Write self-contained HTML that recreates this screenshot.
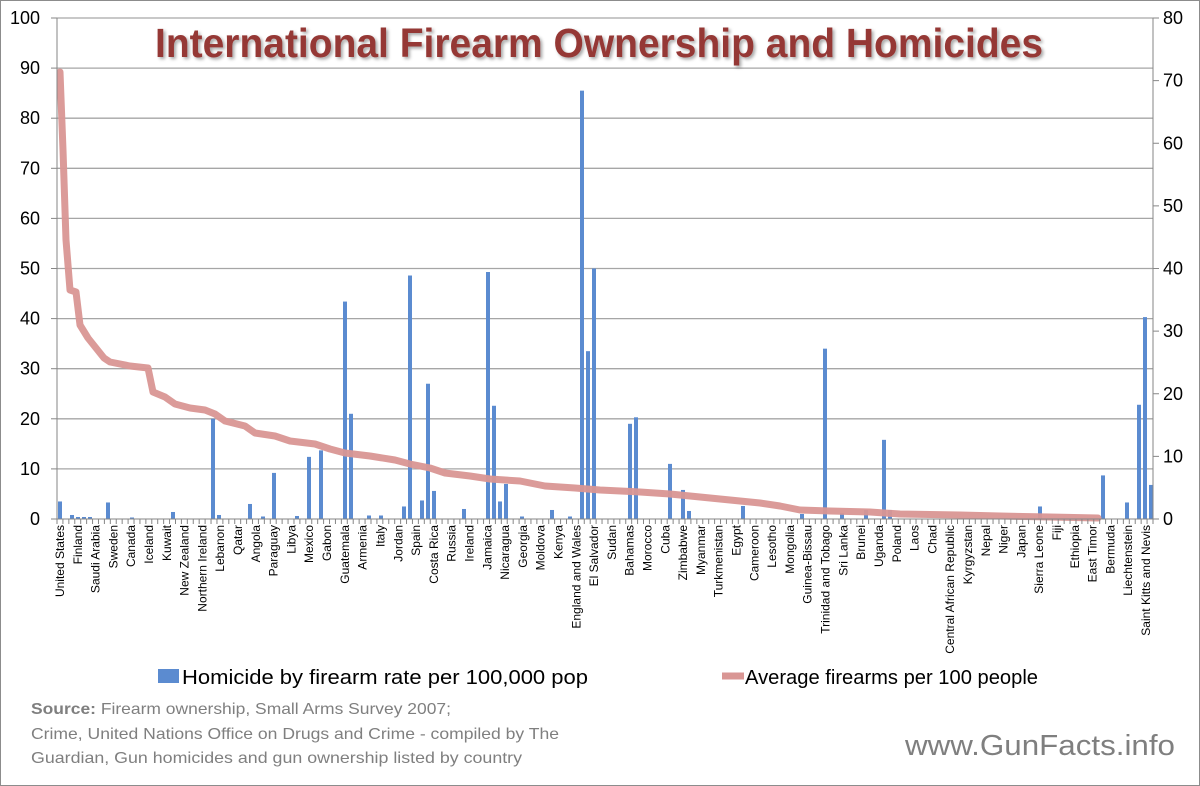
<!DOCTYPE html>
<html><head><meta charset="utf-8"><style>
body{margin:0;background:#fff}
svg{display:block;font-family:"Liberation Sans",sans-serif}
</style></head><body>
<svg id="s" width="1200" height="786" xmlns="http://www.w3.org/2000/svg">
<defs><filter id="sh" x="-5%" y="-20%" width="110%" height="140%"><feDropShadow dx="2" dy="2" stdDeviation="1.5" flood-color="#000" flood-opacity="0.35"/></filter></defs>
<rect x="0.5" y="0.5" width="1199" height="785" fill="#fff" stroke="#8c8c8c"/>
<g id="grid"></g>
<g id="bars"></g>
<polyline id="ln" fill="none" stroke="#d99694" stroke-width="7" stroke-linejoin="round" stroke-linecap="round" opacity="0.95"/>
<g id="axes"></g>
<g id="labs" font-size="12" fill="#000"></g>
<text x="155" y="57" textLength="888" lengthAdjust="spacingAndGlyphs" font-size="41" font-weight="bold" fill="#953735" filter="url(#sh)">International Firearm Ownership and Homicides</text>
<rect x="158" y="669" width="21" height="14" fill="#5b8bd0"/>
<text x="182" y="684" font-size="20" textLength="406" lengthAdjust="spacingAndGlyphs">Homicide by firearm rate per 100,000 pop</text>
<line x1="722" y1="676" x2="744" y2="676" stroke="#d99694" stroke-width="7"/>
<text x="745" y="684" font-size="20" textLength="293" lengthAdjust="spacingAndGlyphs">Average firearms per 100 people</text>
<g font-size="16" fill="#7f7f7f">
<text x="31" y="714" textLength="420" lengthAdjust="spacingAndGlyphs"><tspan font-weight="bold">Source:</tspan> Firearm ownership, Small Arms Survey 2007;</text>
<text x="31" y="739" textLength="528" lengthAdjust="spacingAndGlyphs">Crime, United Nations Office on Drugs and Crime - compiled by The</text>
<text x="31" y="763" textLength="491" lengthAdjust="spacingAndGlyphs">Guardian, Gun homicides and gun ownership listed by country</text>
</g>
<text x="905" y="755" font-size="29" fill="#7f7f7f" textLength="270" lengthAdjust="spacingAndGlyphs">www.GunFacts.info</text>
</svg>
<script>
const NS="http://www.w3.org/2000/svg";
function el(p,t,a,txt){const e=document.createElementNS(NS,t);for(const k in a)e.setAttribute(k,a[k]);if(txt!==undefined)e.textContent=txt;document.getElementById(p).appendChild(e);return e;}
const L=57,R=1153,T=18,B=519;
for(let v=0;v<=100;v+=10){const y=B-(v/100)*(B-T);
 if(v>0)el("grid","line",{x1:L,x2:R,y1:y,y2:y,stroke:"#a6a6a6","stroke-width":1.3});
 el("axes","line",{x1:L-6,x2:L,y1:y,y2:y,stroke:"#868686"});
 el("axes","text",{x:40,y:y+6,"text-anchor":"end","font-size":18},v);}
for(let v=0;v<=80;v+=10){const y=B-(v/80)*(B-T);
 el("axes","line",{x1:R,x2:R+6,y1:y,y2:y,stroke:"#868686"});
 el("axes","text",{x:1163,y:y+6,"font-size":18},v);}
el("axes","line",{x1:L,x2:L,y1:T,y2:B,stroke:"#868686"});
el("axes","line",{x1:R,x2:R,y1:T,y2:B,stroke:"#868686"});
el("axes","line",{x1:L,x2:R,y1:B,y2:B,stroke:"#868686"});
const N=185,w=(R-L)/N;
for(let i=0;i<=N;i++){const x=L+i*w;el("axes","line",{x1:x,x2:x,y1:B,y2:B+5,stroke:"#868686"});}
const bars=[[60,3.5],[72,.8],[78,.4],[84,.4],[90,.4],[108,3.3],[132,.3],[173,1.4],[213,20],[219,.8],[250,3],[263,.5],[274,9.2],[297,.6],[309,12.4],[321,13.7],[345,43.4],[351,21],[369,.7],[381,.7],[404,2.5],[410,48.6],[422,3.7],[428,27],[434,5.6],[464,2],[488,49.3],[494,22.6],[500,3.5],[506,7],[522,.5],[552,1.8],[570,.5],[582,85.5],[588,33.5],[594,50],[630,19],[636,20.3],[670,11],[683,5.8],[689,1.6],[743,2.6],[802,1],[825,34],[842,1.2],[866,1.8],[884,15.8],[890,1.8],[1040,2.5],[1103,8.7],[1127,3.3],[1139,22.8],[1145,40.3],[1151,6.8]];
bars.forEach(([x,v])=>{const h=v*(B-T)/100;el("bars","rect",{x:x-2,y:B-h,width:4,height:h,fill:"#5b8bd0"});});
const pts=[[60,72],[63,150],[66,240],[70,290],[76,292],[80,325],[88,338],[96,348],[104,358],[110,362],[130,366],[148,368],[153,392],[165,397],[175,404],[190,408],[205,410],[215,414],[225,421],[245,426],[255,433],[275,436],[290,441],[315,444],[330,449],[345,453],[370,456],[395,460],[410,464],[430,468],[445,473],[470,476],[490,479],[520,481],[545,486],[575,488],[600,490],[640,492],[670,494],[700,497],[730,500],[760,503],[780,506],[800,510],[830,511],[870,512],[900,514],[960,515],[1000,516],[1050,517],[1098,518]];
document.getElementById("ln").setAttribute("points",pts.map(p=>p.join(",")).join(" "));
const names=["United States","Finland","Saudi Arabia","Sweden","Canada","Iceland","Kuwait","New Zealand","Northern Ireland","Lebanon","Qatar","Angola","Paraguay","Libya","Mexico","Gabon","Guatemala","Armenia","Italy","Jordan","Spain","Costa Rica","Russia","Ireland","Jamaica","Nicaragua","Georgia","Moldova","Kenya","England and Wales","El Salvador","Sudan","Bahamas","Morocco","Cuba","Zimbabwe","Myanmar","Turkmenistan","Egypt","Cameroon","Lesotho","Mongolia","Guinea-Bissau","Trinidad and Tobago","Sri Lanka","Brunei","Uganda","Poland","Laos","Chad","Central African Republic","Kyrgyzstan","Nepal","Niger","Japan","Sierra Leone","Fiji","Ethiopia","East Timor","Bermuda","Liechtenstein","Saint Kitts and Nevis"];
names.forEach((n,i)=>{const x=60+i*(1146-60)/61+4;el("labs","text",{x:0,y:0,"text-anchor":"end",transform:`translate(${x},525) rotate(-90)`},n);});
</script>
</body></html>
